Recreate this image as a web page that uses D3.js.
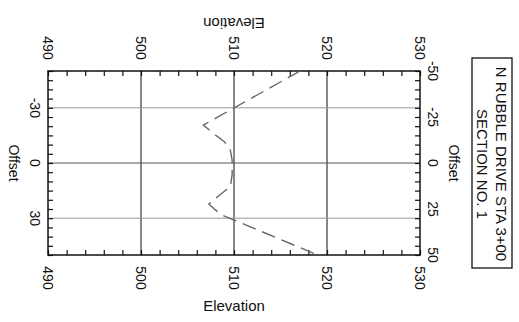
<!DOCTYPE html>
<html>
<head>
<meta charset="utf-8">
<script src="https://cdn.jsdelivr.net/npm/d3@7"></script>
<style>
  html, body { margin: 0; padding: 0; background: #fff; }
  svg { display: block; }
  text { font-family: "Liberation Sans", Arial, sans-serif; fill: #111; }
</style>
</head>
<body>
<svg id="chart" width="519" height="322"></svg>
<script>
// Cross-section profile: ground elevation at each offset from centerline
const offsets    = [-50, -20.6, -15.2, -11.4, -7.1, -1.6, 0, 6.5, 12.9, 15.6, 22.3, 25.5, 28.3, 31.0, 50];
const elevations = [517.1, 506.7, 508.0, 509.0, 509.6, 509.8, 509.8, 509.8, 509.6, 508.9, 507.3, 508.0, 508.7, 510.0, 519.0];

// Axis ticks
const elevationTicks   = [490, 500, 510, 520, 530];
const elevationMinor   = d3.range(490, 531, 2);
const offsetGridTicks  = [-30, 0, 30];
const offsetRightTicks = [-50, -25, 0, 25, 50];
const offsetMinor      = d3.range(-50, 51, 5);

const titleLines = ["N RUBBLE DRIVE STA 3+00", "SECTION NO. 1"];

const svg = d3.select("#chart");
const x = d3.scaleLinear().domain([490, 530]).range([48, 420]);
const y = d3.scaleLinear().domain([-50, 50]).range([71, 255]);
const [x0, x1] = x.range();
const [y0, y1] = y.range();

// Grid lines
svg.append("g").selectAll("line").data(elevationTicks.slice(1, -1)).join("line")
  .attr("x1", d => x(d)).attr("x2", d => x(d))
  .attr("y1", y0).attr("y2", y1)
  .attr("stroke", "#111").attr("stroke-width", 1);
svg.append("g").selectAll("line").data(offsetGridTicks).join("line")
  .attr("x1", x0).attr("x2", x1)
  .attr("y1", d => y(d)).attr("y2", d => y(d))
  .attr("stroke", d => d === 0 ? "#555" : "#999").attr("stroke-width", 1);

// Inward minor ticks on all four sides
const noLabel = () => "";
function styleAxis(g) {
  g.select(".domain").remove();
  g.selectAll(".tick line").attr("stroke", "#111").attr("stroke-width", 1.2);
}
svg.append("g").attr("transform", `translate(0,${y0})`)
  .call(d3.axisTop(x).tickValues(elevationMinor).tickSize(-5).tickFormat(noLabel)).call(styleAxis);
svg.append("g").attr("transform", `translate(0,${y1})`)
  .call(d3.axisBottom(x).tickValues(elevationMinor).tickSize(-5).tickFormat(noLabel)).call(styleAxis);
svg.append("g").attr("transform", `translate(${x0},0)`)
  .call(d3.axisLeft(y).tickValues(offsetMinor).tickSize(-5).tickFormat(noLabel)).call(styleAxis);
svg.append("g").attr("transform", `translate(${x1},0)`)
  .call(d3.axisRight(y).tickValues(offsetMinor).tickSize(-5).tickFormat(noLabel)).call(styleAxis);

// Frame
svg.append("rect")
  .attr("x", x0).attr("y", y0).attr("width", x1 - x0).attr("height", y1 - y0)
  .attr("fill", "none").attr("stroke", "#111").attr("stroke-width", 1.5);

// Profile line
const pts = offsets.map((o, i) => ({ o, e: elevations[i] }));
const line = d3.line().x(d => x(d.e)).y(d => y(d.o));
svg.append("path").datum(pts)
  .attr("d", line)
  .attr("fill", "none").attr("stroke", "#666").attr("stroke-width", 1.4)
  .attr("stroke-dasharray", "14,7");

// Rotated tick labels
function vlabel(g, data, fx, fy, size) {
  g.selectAll("text").data(data).join("text")
    .attr("transform", d => `translate(${fx(d)},${fy(d)}) rotate(90)`)
    .attr("text-anchor", "middle").attr("dominant-baseline", "central")
    .style("font-size", size + "px")
    .text(d => d);
}
vlabel(svg.append("g"), elevationTicks, d => x(d), () => 48, 14);
vlabel(svg.append("g"), elevationTicks, d => x(d), () => 278, 14);
vlabel(svg.append("g"), offsetGridTicks, () => 35, d => y(d), 14);
vlabel(svg.append("g"), offsetRightTicks, () => 433, d => y(d), 14);

// Axis titles
svg.append("text")
  .attr("transform", `translate(${x(510)},23) rotate(180)`)
  .attr("text-anchor", "middle").attr("dominant-baseline", "central")
  .style("font-size", "15px").text("Elevation");
svg.append("text")
  .attr("transform", `translate(${x(510)},305)`)
  .attr("text-anchor", "middle").attr("dominant-baseline", "central")
  .style("font-size", "15px").text("Elevation");
svg.append("text")
  .attr("transform", `translate(14,${y(0)}) rotate(90)`)
  .attr("text-anchor", "middle").attr("dominant-baseline", "central")
  .style("font-size", "14px").text("Offset");
svg.append("text")
  .attr("transform", `translate(454,${y(0)}) rotate(90)`)
  .attr("text-anchor", "middle").attr("dominant-baseline", "central")
  .style("font-size", "14px").text("Offset");

// Title box
svg.append("rect")
  .attr("x", 472).attr("y", 58).attr("width", 40).attr("height", 210)
  .attr("fill", "#fff").attr("stroke", "#111").attr("stroke-width", 1.3);
svg.append("g").selectAll("text").data(titleLines).join("text")
  .attr("transform", (d, i) => `translate(${501 - i * 19},164) rotate(90)`)
  .attr("text-anchor", "middle").attr("dominant-baseline", "central")
  .style("font-size", "15px")
  .text(d => d);
</script>
</body>
</html>
